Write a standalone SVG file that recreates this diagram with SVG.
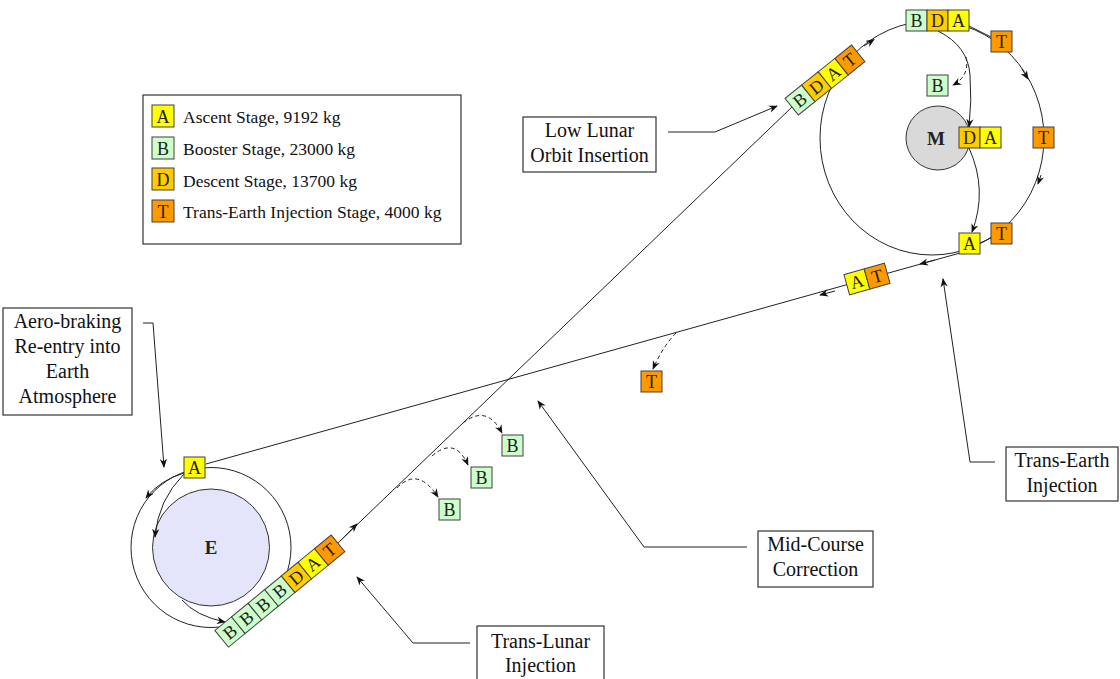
<svg xmlns="http://www.w3.org/2000/svg" width="1120" height="679" viewBox="0 0 1120 679">
<defs>
<style>
.bx{stroke:#404040;stroke-width:1}
.a{fill:#ffff00}.b{fill:#ccffcc}.d{fill:#ffcc00}.t{fill:#ff9900}
.lt{font-family:"Liberation Serif",serif;font-size:18px;text-anchor:middle;fill:#222}
.lg{font-family:"Liberation Serif",serif;font-size:17.5px;fill:#111}
.lb{font-family:"Liberation Serif",serif;font-size:20px;text-anchor:middle;fill:#111}
.frame{fill:#fff;stroke:#333;stroke-width:1.2}
.ln{fill:none;stroke:#222;stroke-width:1}
.ds{fill:none;stroke:#222;stroke-width:1;stroke-dasharray:4 3}
.body{font-family:"Liberation Serif",serif;font-size:19px;font-weight:bold;text-anchor:middle;fill:#222}
</style>
<marker id="ah" viewBox="0 0 10 10" refX="9" refY="5" markerWidth="9" markerHeight="9" markerUnits="userSpaceOnUse" orient="auto"><path d="M0,1 L10,5 L0,9 L3,5 z" fill="#111"/></marker>
</defs>
<rect width="1120" height="679" fill="#fff"/>

<g id="legend">
<rect x="143" y="95" width="318" height="149" class="frame"/>
<rect x="152" y="105" width="22" height="22" class="bx a"/><text x="163" y="122.5" class="lt">A</text>
<text x="183" y="123" class="lg">Ascent Stage, 9192 kg</text>
<rect x="152" y="137" width="22" height="22" class="bx b"/><text x="163" y="154.5" class="lt">B</text>
<text x="183" y="155" class="lg">Booster Stage, 23000 kg</text>
<rect x="152" y="168" width="22" height="22" class="bx d"/><text x="163" y="185.5" class="lt">D</text>
<text x="183" y="186.5" class="lg">Descent Stage, 13700 kg</text>
<rect x="152" y="200" width="22" height="22" class="bx t"/><text x="163" y="217.5" class="lt">T</text>
<text x="183" y="218" class="lg">Trans-Earth Injection Stage, 4000 kg</text>
</g>

<g id="earth">
<circle cx="211" cy="547.5" r="80" class="ln"/>
<circle cx="211" cy="547.5" r="58.5" fill="#e4e4fa" stroke="#333" stroke-width="1"/>
<text x="211" y="554" class="body">E</text>
</g>

<g id="moon">
<ellipse cx="932" cy="138" rx="112" ry="117" class="ln"/>
<circle cx="938" cy="138" r="32" fill="#d9d9d9" stroke="#333" stroke-width="1"/>
<text x="936" y="145" class="body">M</text>
</g>

<g id="connectors">
<line x1="338" y1="543" x2="792" y2="107" class="ln"/>
<path d="M340,541 L357,524" class="ln" marker-end="url(#ah)"/>
<path d="M182,600 Q196,616 225,622" class="ln" marker-end="url(#ah)"/>
<path d="M397,488 Q418,466 438,497" class="ds" marker-end="url(#ah)"/>
<path d="M432,456 Q455,436 468,465" class="ds" marker-end="url(#ah)"/>
<path d="M463,423 Q487,404 502,433" class="ds" marker-end="url(#ah)"/>
<path d="M864,46 L874,39.5" class="ln" marker-end="url(#ah)"/>
<path d="M1022,69 L1028,79" class="ln" marker-end="url(#ah)"/>
<path d="M1041,175 L1038,184" class="ln" marker-end="url(#ah)"/>
<path d="M938,31 Q968,46 970,75 Q972,100 969,127" class="ln" marker-end="url(#ah)"/>
<path d="M966,57 Q970,76 953,85" class="ds" marker-end="url(#ah)"/>
<path d="M969,148 Q988,190 972,232" class="ln" marker-end="url(#ah)"/>
<line x1="960" y1="253" x2="206" y2="464" class="ln"/>
<path d="M935,260 L920,264" class="ln" marker-end="url(#ah)"/>
<path d="M835,291 L820,295" class="ln" marker-end="url(#ah)"/>
<path d="M676,333 Q663,346 653,369" class="ds" marker-end="url(#ah)"/>
<path d="M184,474 Q158,500 155,537" class="ln" marker-end="url(#ah)"/>
<path d="M184,473 Q160,480 146,498" class="ln" marker-end="url(#ah)"/>
<path d="M143,323 L153,323 L164,467" class="ln" marker-end="url(#ah)"/>
<path d="M668,132 L715,132 L777,106" class="ln" marker-end="url(#ah)"/>
<path d="M995,462 L970,462 L943,279" class="ln" marker-end="url(#ah)"/>
<path d="M747,547 L644,547 L538,401" class="ln" marker-end="url(#ah)"/>
<path d="M470,643 L413,643 L357,577" class="ln" marker-end="url(#ah)"/>
</g>

<g id="earth-stack" transform="translate(230,632) rotate(-39.4)">
<rect x="-10.75" y="-10.75" width="21.5" height="21.5" class="bx b"/><text x="0" y="6" class="lt">B</text>
<rect x="10.75" y="-10.75" width="21.5" height="21.5" class="bx b"/><text x="21.5" y="6" class="lt">B</text>
<rect x="32.25" y="-10.75" width="21.5" height="21.5" class="bx b"/><text x="43" y="6" class="lt">B</text>
<rect x="53.75" y="-10.75" width="21.5" height="21.5" class="bx b"/><text x="64.5" y="6" class="lt">B</text>
<rect x="75.25" y="-10.75" width="21.5" height="21.5" class="bx d"/><text x="86" y="6" class="lt">D</text>
<rect x="96.75" y="-10.75" width="21.5" height="21.5" class="bx a"/><text x="107.5" y="6" class="lt">A</text>
<rect x="118.25" y="-10.75" width="21.5" height="21.5" class="bx t"/><text x="129" y="6" class="lt">T</text>
</g>

<g id="moon-stack" transform="translate(800,100) rotate(-38.7)">
<rect x="-10.65" y="-10.65" width="21.3" height="21.3" class="bx b"/><text x="0" y="6" class="lt">B</text>
<rect x="10.65" y="-10.65" width="21.3" height="21.3" class="bx d"/><text x="21.3" y="6" class="lt">D</text>
<rect x="31.95" y="-10.65" width="21.3" height="21.3" class="bx a"/><text x="42.6" y="6" class="lt">A</text>
<rect x="53.25" y="-10.65" width="21.3" height="21.3" class="bx t"/><text x="63.9" y="6" class="lt">T</text>
</g>

<g id="return-stack" transform="translate(867,279) rotate(-15.6)">
<rect x="-21" y="-10.5" width="21" height="21" class="bx a"/><text x="-10.5" y="6" class="lt">A</text>
<rect x="0" y="-10.5" width="21" height="21" class="bx t"/><text x="10.5" y="6" class="lt">T</text>
</g>

<g id="lunar-orbit-stack">
<rect x="906" y="10" width="21" height="21" class="bx b"/><text x="916.5" y="26.5" class="lt">B</text>
<rect x="927" y="10" width="21" height="21" class="bx d"/><text x="937.5" y="26.5" class="lt">D</text>
<rect x="948" y="10" width="21" height="21" class="bx a"/><text x="958.5" y="26.5" class="lt">A</text>
<line x1="969" y1="26" x2="991" y2="37" class="ln"/>
</g>
<g id="tei-t1"><rect x="991" y="31" width="21" height="21" class="bx t"/><text x="1001.5" y="47.5" class="lt">T</text></g>
<g id="tei-t2"><rect x="1033" y="127" width="21" height="21" class="bx t"/><text x="1043.5" y="143.5" class="lt">T</text></g>
<g id="tei-t3"><rect x="991" y="223" width="21" height="21" class="bx t"/><text x="1001.5" y="239.5" class="lt">T</text>
<line x1="991" y1="238" x2="980" y2="243" class="ln"/></g>
<g id="moon-b"><rect x="927" y="75" width="21" height="21" class="bx b"/><text x="937.5" y="91.5" class="lt">B</text></g>
<g id="landed">
<rect x="959" y="127" width="21" height="21" class="bx d"/><text x="969.5" y="143.5" class="lt">D</text>
<rect x="980" y="127" width="21" height="21" class="bx a"/><text x="990.5" y="143.5" class="lt">A</text>
</g>
<g id="ascent-a"><rect x="959" y="233" width="21" height="21" class="bx a"/><text x="969.5" y="249.5" class="lt">A</text></g>
<g id="mcc-t"><rect x="641" y="371" width="21" height="21" class="bx t"/><text x="651.5" y="387.5" class="lt">T</text></g>
<g id="booster-1"><rect x="439" y="499" width="21" height="21" class="bx b"/><text x="449.5" y="515.5" class="lt">B</text></g>
<g id="booster-2"><rect x="471" y="467" width="21" height="21" class="bx b"/><text x="481.5" y="483.5" class="lt">B</text></g>
<g id="booster-3"><rect x="502" y="435" width="21" height="21" class="bx b"/><text x="512.5" y="451.5" class="lt">B</text></g>
<g id="reentry-a"><rect x="184" y="457" width="21" height="21" class="bx a"/><text x="194.5" y="473.5" class="lt">A</text></g>

<g id="label-aero">
<rect x="3" y="308" width="129" height="107" class="frame"/>
<text x="67.5" y="328" class="lb">Aero-braking</text>
<text x="67.5" y="353" class="lb">Re-entry into</text>
<text x="67.5" y="378" class="lb">Earth</text>
<text x="67.5" y="403" class="lb">Atmosphere</text>
</g>
<g id="label-lloi">
<rect x="523" y="117" width="133" height="55" class="frame"/>
<text x="589.5" y="137" class="lb">Low Lunar</text>
<text x="589.5" y="162" class="lb">Orbit Insertion</text>
</g>
<g id="label-tei">
<rect x="1006" y="447" width="112" height="54" class="frame"/>
<text x="1062" y="467" class="lb">Trans-Earth</text>
<text x="1062" y="492" class="lb">Injection</text>
</g>
<g id="label-mcc">
<rect x="758" y="531" width="115" height="56" class="frame"/>
<text x="815.5" y="551" class="lb">Mid-Course</text>
<text x="815.5" y="576" class="lb">Correction</text>
</g>
<g id="label-tli">
<rect x="477" y="626" width="127" height="60" class="frame"/>
<text x="540.5" y="648" class="lb">Trans-Lunar</text>
<text x="540.5" y="672" class="lb">Injection</text>
</g>
</svg>
